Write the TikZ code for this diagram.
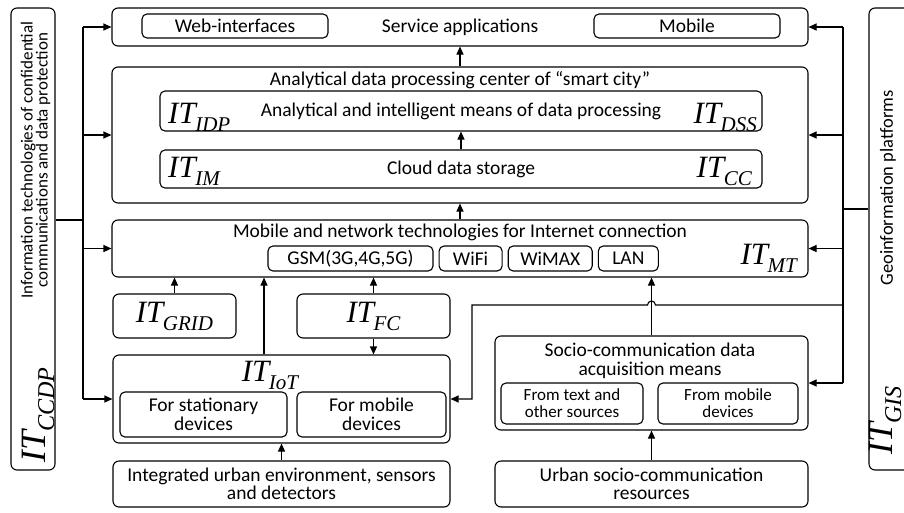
\documentclass[tikz,border=0pt]{standalone}
\usepackage{fontspec}
\setmainfont{Carlito}
\newfontfamily\tnr{Liberation Serif}
\usepackage{tikz}
\usetikzlibrary{arrows.meta,positioning}

\newcommand{\itsub}[1]{{\tnr\itshape\fontsize{31}{31}\selectfont IT\kern-0.5pt\raisebox{-8pt}{\fontsize{21}{21}\selectfont #1}}}

\begin{document}
\begin{tikzpicture}[
  x=1pt, y=-1pt,
  font=\fontsize{19.5}{18.5}\selectfont,
  box/.style={draw, rounded corners=6pt, line width=1.1pt, inner sep=0pt, align=center},
  sub/.style={draw, rounded corners=5pt, line width=1.1pt, inner sep=0pt, align=center},
  arr/.style={-{Triangle[length=8pt,width=7pt]}, line width=1.1pt},
  wire/.style={line width=1.1pt},
  lab/.style={inner sep=0pt, anchor=base west},
  side/.style={inner sep=0pt, rotate=90, align=center, font=\fontsize{17}{15}\selectfont}
]
  \useasboundingbox (0,0) rectangle (904,512);

  % service level
  \node[box, minimum width=696pt, minimum height=38pt] (serv) at (460,27) {Service applications};
  \node[sub, minimum width=186pt, minimum height=24pt] (web) at (235,26) {Web-interfaces};
  \node[sub, minimum width=186pt, minimum height=24pt] (mob) at (687,26) {Mobile};

  % data processing center
  \node[box, minimum width=696pt, minimum height=136pt] (adpc) at (460,135) {};
  \node[inner sep=0pt] (adpct) at (460,80) {Analytical data processing center of “smart city”};
  \node[sub, minimum width=602pt, minimum height=40pt] (idp) at (461,111) {Analytical and intelligent means of data processing};
  \node[sub, minimum width=602pt, minimum height=38pt] (cds) at (461,169) {Cloud data storage};
  \node[lab] (itidp) at (168,123) {\itsub{IDP}};
  \node[lab, anchor=base east] (itdss) at (757,123) {\itsub{DSS}};
  \node[lab] (itim) at (168,177) {\itsub{IM}};
  \node[lab, anchor=base east] (itcc) at (752,177) {\itsub{CC}};

  % network level
  \node[box, minimum width=696pt, minimum height=57pt] (net) at (460,248.5) {};
  \node[inner sep=0pt] (nett) at (460,232) {Mobile and network technologies for Internet connection};
  \node[sub, minimum width=165pt, minimum height=25pt] (gsm) at (350.5,258.5) {GSM(3G,4G,5G)};
  \node[sub, minimum width=63pt, minimum height=25pt, right=5pt of gsm] (wifi) {WiFi};
  \node[sub, minimum width=84pt, minimum height=25pt, right=5pt of wifi] (wimax) {WiMAX};
  \node[sub, minimum width=60pt, minimum height=25pt, right=5pt of wimax] (lan) {LAN};
  \node[lab, anchor=base east] (itmt) at (797,264) {\itsub{MT}};

  \node[box, minimum width=123pt, minimum height=44pt] (grid) at (174.5,316) {\itsub{GRID}};
  \node[box, minimum width=153pt, minimum height=44pt] (fc) at (373.5,316) {\itsub{FC}};

  % internet of things
  \node[box, minimum width=337pt, minimum height=88pt] (iot) at (281.5,399) {};
  \node[lab, anchor=base] (itiot) at (270,381) {\itsub{IoT}};
  \node[sub, minimum width=167pt, minimum height=45pt] (stat) at (203.5,414.5) {For stationary\\devices};
  \node[sub, minimum width=149pt, minimum height=45pt] (mdev) at (371.5,414.5) {For mobile\\devices};
  \node[box, minimum width=337pt, minimum height=46pt] (urb) at (281.5,484) {Integrated urban environment, sensors\\and detectors};

  % socio-communication
  \node[box, minimum width=313pt, minimum height=94pt] (scd) at (651.5,383) {};
  \node[inner sep=0pt, align=center] (scdt) at (650,361) {Socio-communication data\\acquisition means};
  \node[sub, minimum width=142pt, minimum height=41pt, font=\fontsize{17}{17}\selectfont] (ftext) at (572,403.5) {From text and\\other sources};
  \node[sub, minimum width=140pt, minimum height=41pt, font=\fontsize{17}{17}\selectfont] (fmob) at (728,403.5) {From mobile\\devices};
  \node[box, minimum width=313pt, minimum height=46pt] (usr) at (651.5,484) {Urban socio-communication\\resources};

  % side platforms
  \node[box, minimum width=44pt, minimum height=462pt] (ccdp) at (33,239) {};
  \node[side] (ccdpt) at (35.5,160) {Information technologies of confidential\\communications and data protection};
  \node[lab, rotate=90] (itccdp) at (45,463) {\scalebox{1.15}{\itsub{CCDP}}};
  \node[box, minimum width=70pt, minimum height=462pt] (gis) at (904,239) {};
  \node[side, font=\fontsize{18.5}{15}\selectfont] (gist) at (888,188) {Geoinformation platforms};
  \node[lab, rotate=90] (itgis) at (892,455) {\scalebox{1.15}{\itsub{GIS}}};

  % vertical flow
  \draw[arr] (adpc.north) -- (serv.south);
  \draw[arr] (cds.north) -- (idp.south);
  \draw[arr] (net.north) -- (adpc.south);
  \draw[arr] (grid.north) -- (grid.north |- net.south);
  \coordinate (iotup) at ([xshift=-17.5pt]iot.north);
  \draw[arr] (iotup) -- (iotup |- net.south);
  \draw[arr] (fc.north) -- (fc.north |- net.south);
  \draw[arr] (fc.south) -- (fc.south |- iot.north);
  \draw[arr] (urb.north) -- (iot.south);
  \draw[arr] (usr.north) -- (scd.south);
  \draw[arr] (scd.north) -- (scd.north |- net.south);

  % left bus
  \coordinate (lj) at (83,220);
  \coordinate (ltop) at (lj |- serv.west);
  \coordinate (lbot) at (lj |- iot.west);
  \draw[wire] (ccdp.east |- lj) -- (lj);
  \draw[wire] (ltop) -- (lbot);
  \draw[arr] (ltop) -- (serv.west);
  \draw[arr] (lj |- adpc.west) -- (adpc.west);
  \draw[arr] (lj |- net.west) -- (net.west);
  \draw[arr] (lbot) -- (iot.west);

  % right bus
  \coordinate (rj) at (843,209);
  \coordinate (rtop) at (rj |- serv.east);
  \coordinate (rbot) at (rj |- scd.east);
  \draw[wire] (gis.west |- rj) -- (rj);
  \draw[wire] (rtop) -- (rbot);
  \draw[arr] (rtop) -- (serv.east);
  \draw[arr] (rj |- adpc.east) -- (adpc.east);
  \draw[arr] (rj |- net.east) -- (net.east);
  \draw[arr] (rbot) -- (scd.east);

  % crossing line down to the IoT block
  \coordinate (rx) at (843,305);
  \coordinate (br) at (scd.north |- rx);
  \coordinate (dn) at (472,305);
  \draw[arr] (rx) -- ([xshift=4pt]br) arc[start angle=0, end angle=180, radius=4pt] -- (dn) |- (iot.east);
\end{tikzpicture}
\end{document}
